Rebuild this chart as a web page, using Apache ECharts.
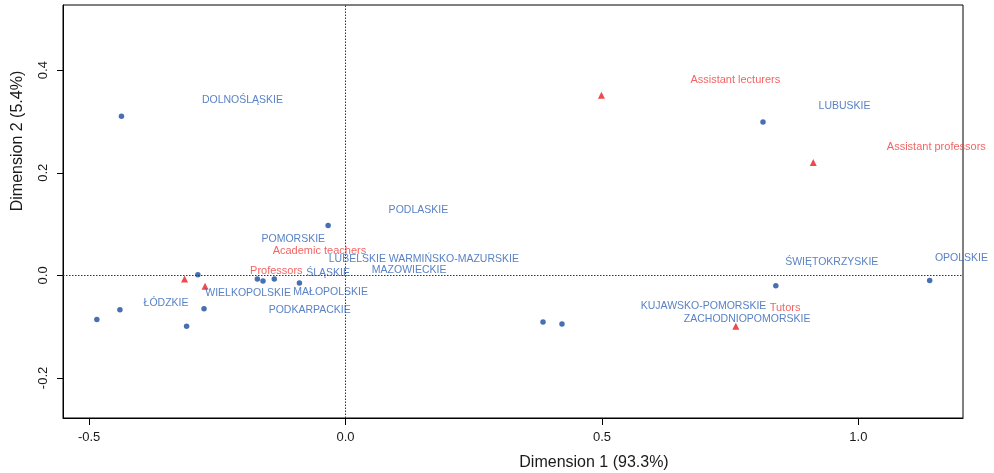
<!DOCTYPE html>
<html><head><meta charset="utf-8">
<script src="https://cdn.jsdelivr.net/npm/echarts@6/dist/echarts.min.js"></script>
<style>html,body{margin:0;padding:0;background:#fff}#c{width:994px;height:473px}</style>
</head><body><div id="c"></div>
<script>
// Row points (voivodeships)
const rowX = [-0.437, 0.814, -0.034, -0.288, -0.172, -0.161, -0.139, -0.090, -0.440, -0.485, -0.276, -0.310, 0.385, 0.422, 0.839, 1.139];
const rowY = [0.310, 0.299, 0.097, 0.001, -0.007, -0.011, -0.007, -0.015, -0.067, -0.086, -0.065, -0.099, -0.091, -0.095, -0.020, -0.010];
// Column points (staff categories)
const colX = [-0.314, -0.274, 0.499, 0.912, 0.761];
const colY = [-0.007, -0.021, 0.351, 0.220, -0.099];
// Row labels (placed positions)
const rowLabels = ['DOLNOŚLĄSKIE','POMORSKIE','LUBELSKIE','WARMIŃSKO-MAZURSKIE','MAZOWIECKIE','PODLASKIE','ŚLĄSKIE','WIELKOPOLSKIE','MAŁOPOLSKIE','PODKARPACKIE','ŁÓDZKIE','KUJAWSKO-POMORSKIE','ZACHODNIOPOMORSKIE','ŚWIĘTOKRZYSKIE','OPOLSKIE','LUBUSKIE'];
const rowLabelX = [-0.201, -0.102, 0.023, 0.211, 0.124, 0.142, -0.034, -0.190, -0.029, -0.070, -0.350, 0.698, 0.783, 0.948, 1.201, 0.973];
const rowLabelY = [0.342, 0.070, 0.032, 0.032, 0.011, 0.128, 0.005, -0.034, -0.033, -0.067, -0.055, -0.059, -0.085, 0.025, 0.033, 0.330];
const colLabels = ['Academic teachers','Professors','Tutors','Assistant lecturers','Assistant professors'];
const colLabelX = [-0.051, -0.135, 0.857, 0.760, 1.152];
const colLabelY = [0.047, 0.008, -0.063, 0.381, 0.251];
// Axes
const xTicks = [-0.5, 0, 0.5, 1.0];
const yTicks = [-0.2, 0, 0.2, 0.4];
const xTitle = 'Dimension 1 (93.3%)';
const yTitle = 'Dimension 2 (5.4%)';

const FONT = '"Liberation Sans", Arial, sans-serif';
const chart = echarts.init(document.getElementById('c'));
const zip = (a, b, n) => a.map((v, i) => n ? [v, b[i], n[i]] : [v, b[i]]);
const labelSeries = (names, xs, ys, color, size) => ({
  type: 'scatter', data: zip(xs, ys, names), symbolSize: 0, clip: false, silent: true, z: 5,
  label: { show: true, position: 'inside', formatter: p => p.data[2], color: color, fontSize: size, fontFamily: FONT }
});
chart.setOption({
  animation: false,
  grid: { left: 63, top: 5, width: 900, height: 413, show: true, borderColor: '#000', borderWidth: 1, backgroundColor: 'transparent' },
  xAxis: {
    type: 'value', min: -0.551, max: 1.204, splitLine: { show: false },
    axisLine: { show: true, onZero: false, lineStyle: { color: '#000', width: 1 } },
    axisTick: { show: true, customValues: xTicks, length: 7, lineStyle: { color: '#000' } },
    axisLabel: { customValues: xTicks, margin: 13, fontSize: 13, color: '#1a1a1a', fontFamily: FONT, formatter: v => v.toFixed(1) }
  },
  yAxis: {
    type: 'value', min: -0.278, max: 0.527, splitLine: { show: false },
    axisLine: { show: true, onZero: false, lineStyle: { color: '#000', width: 1 } },
    axisTick: { show: true, customValues: yTicks, length: 6, lineStyle: { color: '#000' } },
    axisLabel: { customValues: yTicks, rotate: 90, margin: 13, fontSize: 13, color: '#1a1a1a', fontFamily: FONT, formatter: v => v.toFixed(1) }
  },
  graphic: [
    { type: 'text', style: { text: xTitle, x: 594, y: 463, align: 'center', verticalAlign: 'middle', fontSize: 16, fill: '#1a1a1a', fontFamily: FONT } },
    { type: 'text', x: 18, y: 141, rotation: Math.PI / 2, style: { text: yTitle, x: 0, y: 0, align: 'center', verticalAlign: 'middle', fontSize: 16, fill: '#1a1a1a', fontFamily: FONT } }
  ],
  series: [
    {
      type: 'scatter', data: zip(rowX, rowY), symbol: 'circle', symbolSize: 5.5, itemStyle: { color: '#1a4c9c' }, z: 4,
      markLine: {
        silent: true, symbol: 'none', label: { show: false },
        lineStyle: { type: [1.5, 1.5], color: '#333', width: 1 },
        data: [{ xAxis: 0 }, { yAxis: 0 }]
      }
    },
    { type: 'scatter', data: zip(colX, colY), symbol: 'triangle', symbolSize: 7, itemStyle: { color: '#ea1c24' }, z: 4 },
    labelSeries(rowLabels, rowLabelX, rowLabelY, '#2f62b5', 10.5),
    labelSeries(colLabels, colLabelX, colLabelY, '#f03c3c', 11)
  ]
});
</script></body></html>
